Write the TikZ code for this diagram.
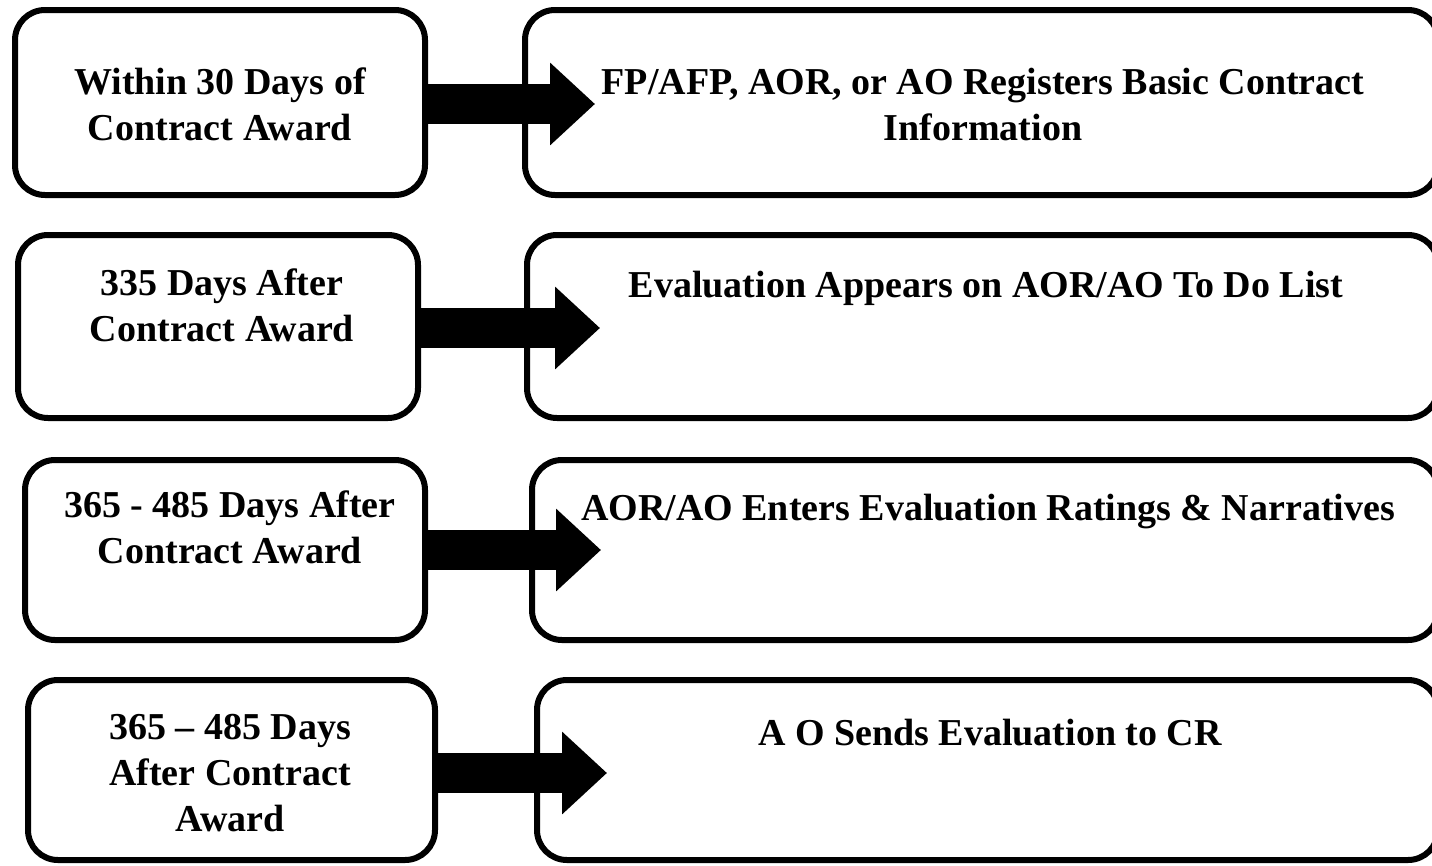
\documentclass[tikz,border=0pt]{standalone}
\usepackage{fontspec}
\setmainfont{Liberation Serif}
\usetikzlibrary{arrows.meta}
\tikzset{
  box/.style={draw, line width=6pt, rounded corners=30pt, inner sep=0pt},
  txt/.style={font=\fontsize{38}{46}\selectfont\bfseries, align=center, inner sep=0pt},
  bigarrow/.style={line width=40pt, -{Triangle[length=45pt,width=80pt]}}
}
\begin{document}
\begin{tikzpicture}[x=1pt,y=-1pt]
\useasboundingbox (0,0) rectangle (1432,865);
\clip (0,0) rectangle (1432,865);
% left boxes
\node[box, minimum width=410pt, minimum height=185pt] (L1) at (220,102.5) {};
\node[box, minimum width=400pt, minimum height=183pt] (L2) at (218,326.5) {};
\node[box, minimum width=400pt, minimum height=180pt] (L3) at (225,550) {};
\node[box, minimum width=407pt, minimum height=180pt] (L4) at (231.5,770) {};
% right boxes
\node[box, minimum width=913pt, minimum height=185pt] (R1) at (981.5,102.5) {};
\node[box, minimum width=911pt, minimum height=183pt] (R2) at (982.5,326.5) {};
\node[box, minimum width=906pt, minimum height=180pt] (R3) at (985,550) {};
\node[box, minimum width=901pt, minimum height=180pt] (R4) at (987.5,770) {};
% texts
\node[txt] (lt1) at (220,104) {Within 30 Days of\\Contract Award};
\node[txt] (lt2) at (222,305) {335 Days After\\Contract Award};
\node[txt] (lt3) at (230,527) {365 - 485 Days After\\Contract Award};
\node[txt] (lt4) at (230,773) {365 -- 485 Days\\After Contract\\Award};
\node[txt] (rt1) at (983,104) {FP/AFP, AOR, or AO Registers Basic  Contract\\Information};
\node[txt] (rt2) at (986,288) {Evaluation Appears on AOR/AO To Do List};
\node[txt] (rt3) at (988,512) {AOR/AO Enters Evaluation Ratings \& Narratives};
\node[txt] (rt4) at (990,733) {A O Sends Evaluation to CR};
% arrow tips
\coordinate (t1) at (595,104);
\coordinate (t2) at (600,328);
\coordinate (t3) at (601,550);
\coordinate (t4) at (607,773);
\draw[bigarrow] (L1.east |- t1) -- (t1);
\draw[bigarrow] (L2.east |- t2) -- (t2);
\draw[bigarrow] (L3.east |- t3) -- (t3);
\draw[bigarrow] (L4.east |- t4) -- (t4);
\end{tikzpicture}
\end{document}
